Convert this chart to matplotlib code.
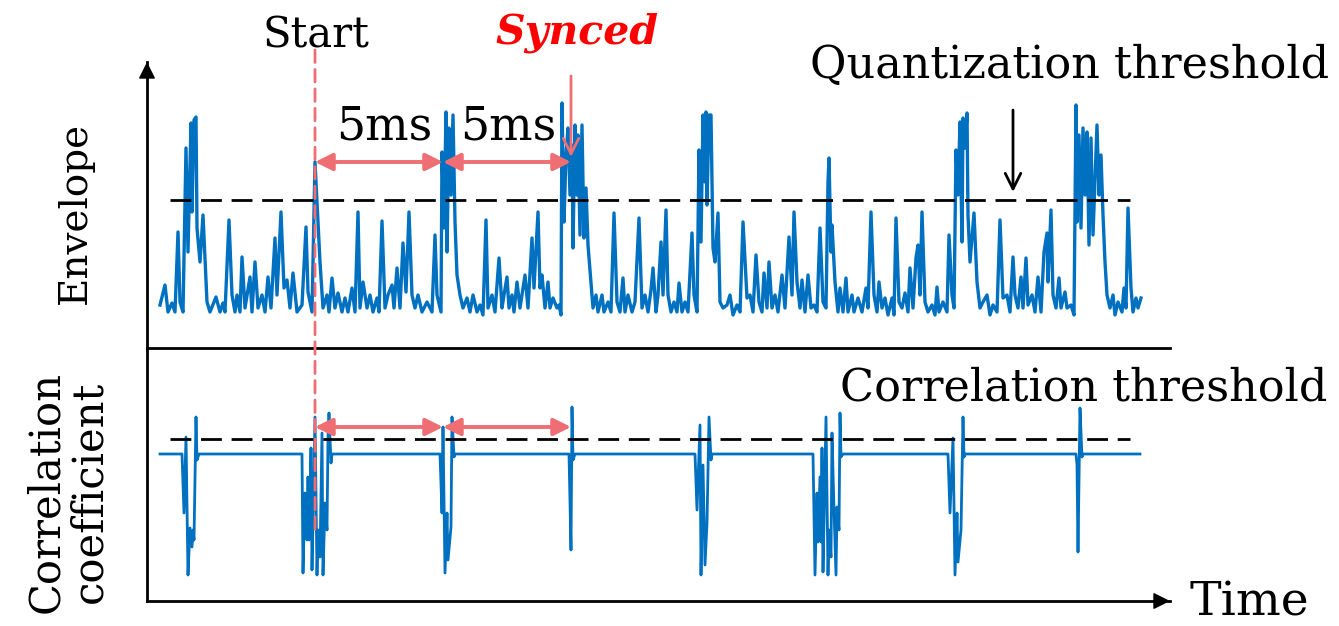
import matplotlib
matplotlib.use("Agg")
import matplotlib.pyplot as plt
from matplotlib.patches import ConnectionPatch

# envelope trace: sample index (25.6 kHz, 128 samples = 5 ms) and amplitude
env_t = [0, 5, 8, 12, 15, 18, 20, 23, 26, 28, 31, 32, 34, 36, 37, 40, 43, 47, 50, 56,
         60, 63, 65, 69, 72, 75, 77, 80, 82, 85, 90, 92, 95, 98, 102, 105, 108, 111, 115, 117,
         121, 124, 127, 130, 133, 137, 142, 146, 148, 152, 155, 158, 160, 163, 167, 169, 172, 175, 178, 182,
         185, 188, 192, 195, 198, 200, 203, 207, 210, 213, 217, 219, 222, 225, 228, 232, 234, 237, 240, 243,
         246, 249, 252, 255, 258, 262, 267, 272, 275, 277, 281, 282, 284, 286, 287, 289, 291, 293, 295, 297,
         300, 303, 307, 310, 313, 317, 320, 323, 326, 328, 332, 335, 339, 342, 344, 347, 349, 352, 354, 357,
         360, 362, 365, 368, 372, 374, 378, 380, 382, 385, 388, 390, 393, 397, 399, 401, 402, 404, 406, 408,
         410, 412, 413, 415, 417, 418, 420, 422, 424, 426, 428, 431, 433, 436, 438, 442, 444, 448, 451, 454,
         457, 460, 463, 465, 468, 472, 475, 479, 482, 485, 488, 491, 493, 496, 498, 501, 503, 506, 508, 511,
         514, 517, 519, 522, 525, 528, 532, 534, 537, 539, 541, 543, 545, 546, 547, 549, 551, 553, 555, 558,
         560, 563, 567, 570, 573, 577, 580, 583, 587, 590, 593, 596, 599, 602, 604, 607, 609, 612, 615, 618,
         622, 625, 629, 632, 634, 637, 640, 642, 645, 648, 651, 654, 657, 660, 663, 666, 668, 669, 671, 672,
         675, 678, 680, 683, 686, 688, 692, 694, 698, 702, 706, 708, 711, 714, 717, 719, 722, 725, 728, 732,
         734, 736, 739, 742, 745, 748, 750, 753, 756, 758, 760, 762, 765, 768, 772, 775, 777, 779, 783, 787,
         789, 792, 794, 796, 798, 800, 802, 803, 805, 807, 808, 810, 814, 817, 820, 823, 827, 830, 833, 837,
         840, 843, 847, 850, 853, 855, 858, 861, 863, 866, 868, 872, 875, 878, 881, 884, 887, 888, 891, 893,
         896, 899, 901, 905, 907, 911, 914, 916, 917, 919, 921, 923, 925, 927, 929, 931, 933, 937, 939, 941,
         943, 945, 947, 950, 953, 955, 958, 962, 964, 966, 968, 971, 973, 976, 978, 981]
env_v = [13, 33, 6, 15, 6, 86, 16, 6, 170, 66, 195, 106, 198, 201, 90, 56, 103, 16, 6, 21,
         6, 15, 6, 98, 23, 6, 23, 6, 61, 10, 41, 6, 56, 10, 23, 6, 41, 10, 80, 23,
         106, 30, 38, 10, 45, 6, 13, 91, 26, 6, 156, 96, 56, 10, 23, 6, 40, 10, 25, 6,
         20, 6, 30, 6, 106, 10, 36, 10, 23, 6, 20, 6, 97, 10, 23, 33, 10, 50, 10, 75,
         26, 106, 23, 10, 23, 6, 16, 6, 83, 23, 6, 166, 90, 206, 66, 190, 123, 203, 96, 43,
         23, 10, 20, 6, 23, 6, 13, 3, 98, 10, 23, 6, 60, 10, 23, 41, 10, 23, 6, 36,
         10, 23, 43, 10, 80, 30, 106, 30, 43, 10, 36, 10, 20, 10, 13, 3, 215, 96, 163, 190,
         123, 173, 70, 193, 123, 183, 83, 193, 80, 130, 73, 36, 10, 23, 6, 23, 6, 16, 6, 105,
         16, 6, 40, 6, 23, 6, 16, 100, 10, 23, 6, 28, 50, 6, 23, 76, 23, 108, 23, 6,
         16, 6, 35, 6, 16, 6, 85, 23, 6, 168, 76, 203, 136, 206, 113, 203, 203, 70, 56, 105,
         16, 10, 13, 23, 3, 13, 6, 96, 20, 23, 6, 63, 16, 6, 45, 10, 56, 10, 23, 6,
         43, 10, 81, 23, 106, 36, 10, 38, 6, 43, 10, 13, 6, 90, 16, 10, 136, 160, 66, 93,
         36, 6, 30, 6, 40, 6, 23, 6, 20, 6, 30, 10, 106, 23, 6, 36, 10, 20, 3, 20,
         3, 100, 16, 10, 25, 6, 50, 10, 60, 73, 23, 106, 16, 6, 13, 3, 31, 6, 16, 6,
         83, 23, 10, 168, 123, 196, 76, 200, 170, 205, 103, 56, 105, 36, 10, 16, 23, 3, 13, 6,
         98, 20, 23, 6, 61, 23, 10, 41, 10, 60, 13, 23, 6, 41, 6, 66, 85, 36, 108, 23,
         10, 40, 10, 26, 10, 13, 3, 213, 96, 183, 90, 190, 123, 186, 73, 180, 83, 193, 123, 163,
         103, 56, 23, 10, 23, 3, 16, 6, 30, 10, 110, 30, 6, 20, 10, 20]
quant_threshold = 118

# correlation coefficient trace
corr_t = [0, 22, 24, 26, 28, 30, 32, 33, 34, 36, 37, 39,
          142, 143, 145, 147, 148, 149, 151, 152, 153, 155, 157, 158, 160, 162, 163, 165, 167, 168, 169, 171, 172,
          280, 282, 283, 285, 287, 288, 291, 292, 294, 295,
          409, 411, 412, 413, 415,
          535, 537, 540, 541, 543, 545, 547, 549, 551, 552,
          653, 655, 657, 658, 660, 661, 662, 663, 664, 666, 668, 669, 671, 672, 674, 676, 677, 679, 680, 681, 683,
          788, 790, 793, 795, 797, 798, 801, 803, 804, 805,
          916, 917, 918, 920, 922, 923, 980]
corr_v = [0.73, 0.73, 0.435, 0.815, 0.125, 0.36, 0.265, 0.35, 0.30, 0.915, 0.70, 0.73,
          0.73, 0.135, 0.535, 0.30, 0.615, 0.30, 0.76, 0.15, 0.40, 0.915, 0.125, 0.35, 0.215, 0.835, 0.125,
          0.485, 0.35, 0.815, 0.935, 0.685, 0.73,
          0.73, 0.435, 0.865, 0.135, 0.435, 0.20, 0.365, 0.915, 0.715, 0.73,
          0.73, 0.25, 0.965, 0.70, 0.73,
          0.73, 0.45, 0.875, 0.125, 0.675, 0.175, 0.385, 0.915, 0.70, 0.73,
          0.73, 0.125, 0.535, 0.29, 0.615, 0.29, 0.76, 0.14, 0.385, 0.915, 0.125, 0.35, 0.215, 0.835, 0.45,
          0.125, 0.465, 0.35, 0.935, 0.715, 0.73,
          0.73, 0.435, 0.81, 0.125, 0.435, 0.19, 0.35, 0.915, 0.715, 0.73,
          0.73, 0.675, 0.24, 0.96, 0.715, 0.73, 0.73]
corr_threshold = 0.805

start_t = 155
period = 128      # 5 ms
thr_span = [10, 970]

blue = '#0070C0'
salmon = '#EE6E73'
W, H = 1339, 626

def fx(x):
    return x / W

def fy(y):
    return 1 - y / H

plt.rcParams['font.family'] = ['DejaVu Serif']

fig = plt.figure(figsize=(W / 100, H / 100), dpi=100)
left, right = 147, 1170
ax1 = fig.add_axes([fx(left), fy(348), (right - left) / W, (348 - 62) / H])
ax2 = fig.add_axes([fx(left), fy(601), (right - left) / W, (601 - 348) / H])

for ax in (ax1, ax2):
    ax.set_xlim(-13, 1010)
    ax.set_xticks([])
    ax.set_yticks([])
    ax.patch.set_alpha(0)
    for s in ('top', 'right'):
        ax.spines[s].set_visible(False)
    for s in ('left', 'bottom'):
        ax.spines[s].set_linewidth(2.0)
ax1.set_ylim(-30, 256)
ax2.set_ylim(-0.005, 1.26)

ax1.plot(env_t, env_v, color=blue, lw=2.4, solid_joinstyle='round')
ax1.plot(thr_span, [quant_threshold] * 2, color='black', lw=2.0, dashes=(7.5, 3.5))
ax2.plot(corr_t, corr_v, color=blue, lw=2.0)
ax2.plot(thr_span, [corr_threshold] * 2, color='black', lw=2.0, dashes=(7.5, 3.5))

# axis arrowheads
ax1.annotate('', xy=(0, 1.0), xytext=(0, 0.99), xycoords='axes fraction',
             arrowprops=dict(arrowstyle='-|>', color='black', lw=1.0, mutation_scale=26,
                             shrinkA=0, shrinkB=0))
ax2.annotate('', xy=(1.0, 0), xytext=(0.99, 0), xycoords='axes fraction',
             arrowprops=dict(arrowstyle='-|>', color='black', lw=1.0, mutation_scale=26,
                             shrinkA=0, shrinkB=0))

# start marker across both panels
con = ConnectionPatch(xyA=(start_t, 268), coordsA=ax1.transData,
                      xyB=(start_t, 0.325), coordsB=ax2.transData,
                      color=salmon, lw=2.0, linestyle=(0, (4.5, 2.5)))
fig.add_artist(con)

# 5 ms spans
for ax, yv in ((ax1, 156), (ax2, 0.865)):
    for k in range(2):
        ax.annotate('', xy=(start_t + (k + 1) * period, yv), xytext=(start_t + k * period, yv),
                    arrowprops=dict(arrowstyle='<|-|>', color=salmon, lw=2.8,
                                    mutation_scale=26, shrinkA=0, shrinkB=0))

# synced arrow
ax1.annotate('', xy=(start_t + 2 * period, 161), xytext=(start_t + 2 * period, 242),
             arrowprops=dict(arrowstyle='->', color=salmon, lw=2.0, mutation_scale=28,
                             shrinkA=0, shrinkB=0), annotation_clip=False)
# quantization threshold arrow
ax1.annotate('', xy=(853, 126), xytext=(853, 208),
             arrowprops=dict(arrowstyle='->', color='black', lw=2.0, mutation_scale=28,
                             shrinkA=0, shrinkB=0))

fs = 32
fig.text(fx(316), fy(35), 'Start', fontsize=30, ha='center', va='center')
fig.text(fx(577), fy(33), 'Synced', fontsize=29.5, ha='center', va='center',
         color='red', fontweight='bold', fontstyle='italic')
fig.text(fx(384), fy(127), '5ms', fontsize=33, ha='center', va='center')
fig.text(fx(508), fy(127), '5ms', fontsize=33, ha='center', va='center')
fig.text(fx(810), fy(65), 'Quantization threshold', fontsize=fs, ha='left', va='center')
fig.text(fx(840), fy(388), 'Correlation threshold', fontsize=fs, ha='left', va='center')
fig.text(fx(1190), fy(603), 'Time', fontsize=34, ha='left', va='center')
fig.text(fx(75), fy(213), 'Envelope', fontsize=28, ha='center', va='center', rotation=90)
fig.text(fx(68), fy(492), 'Correlation\ncoefficient', fontsize=30, ha='center', va='center',
         rotation=90, linespacing=1.05)

fig.savefig('out.png', dpi=100)
